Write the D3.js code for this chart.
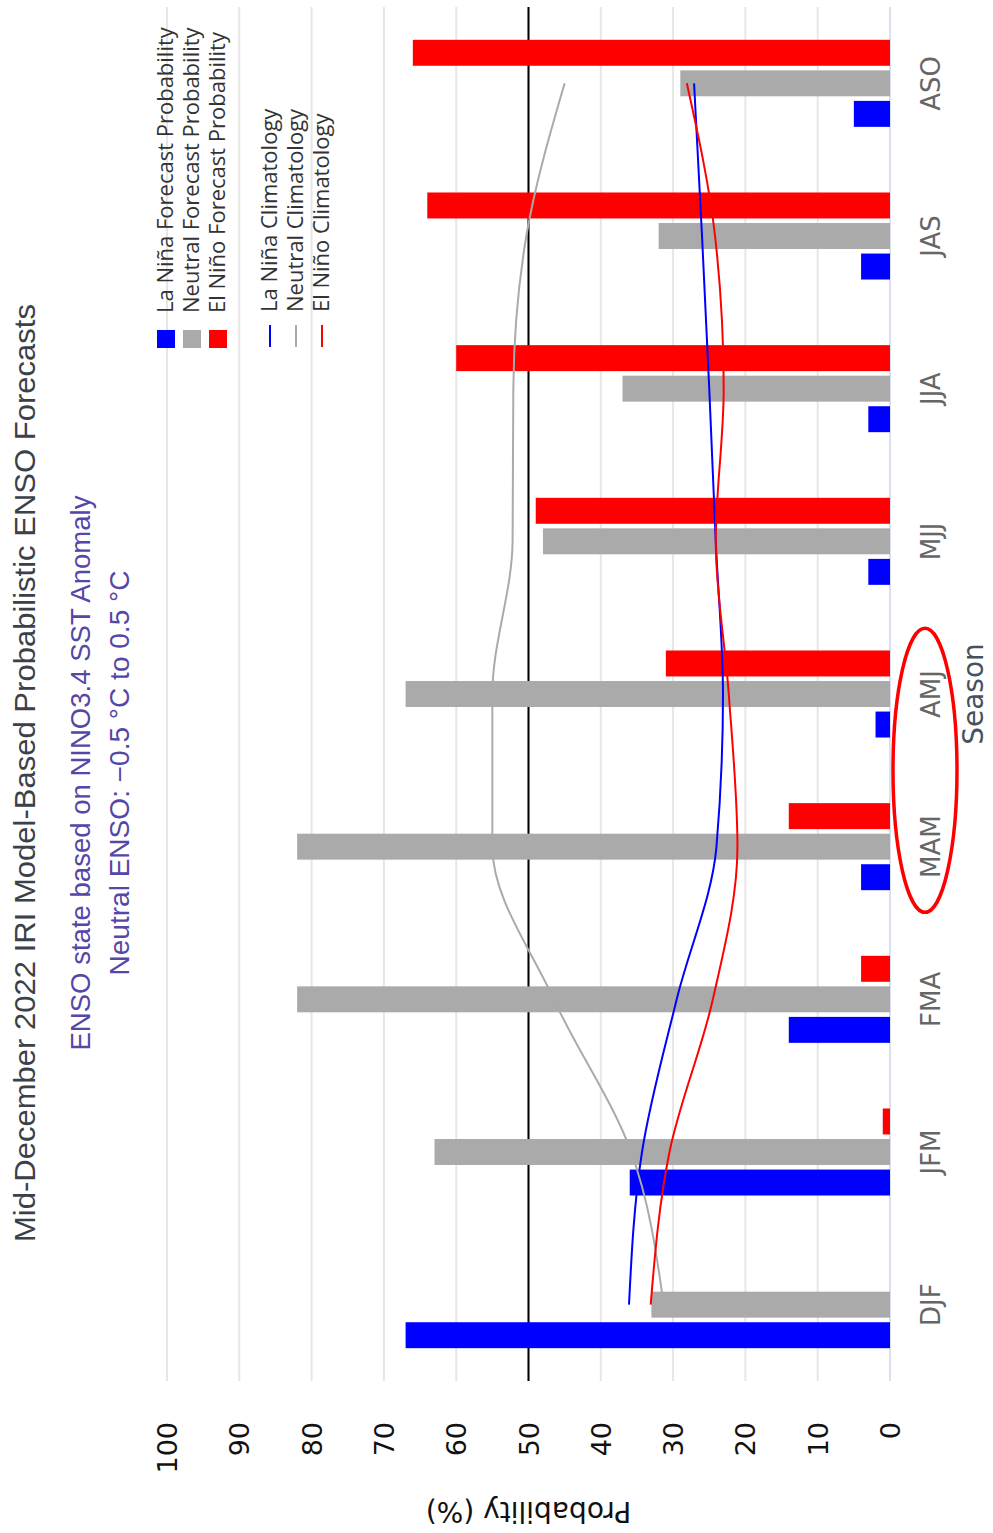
<!DOCTYPE html>
<html>
<head>
<meta charset="utf-8">
<script src="https://cdn.jsdelivr.net/npm/d3@7"></script>
<style>
  html, body { margin: 0; padding: 0; background: #fff; }
  svg { display: block; }
</style>
</head>
<body>
<div id="chart"></div>
<script>
// 数据
const seasons = ['DJF', 'JFM', 'FMA', 'MAM', 'AMJ', 'MJJ', 'JJA', 'JAS', 'ASO'];
const laNinaProb = [67, 36, 14, 4, 2, 3, 3, 4, 5];
const neutralProb = [33, 63, 82, 82, 67, 48, 37, 32, 29];
const elNinoProb = [0, 1, 4, 14, 31, 49, 60, 64, 66];
const laNinaClim = [36.1, 34.3, 29.5, 24, 23.1, 24.1, 25, 26, 27.1];
const neutralClim = [31.3, 35.8, 46.5, 55, 55, 52.2, 52.1, 50.3, 45];
const elNinoClim = [33.1, 30.5, 24.5, 21.1, 22.3, 24.1, 23, 24.2, 28.1];
const yTicks = [0, 10, 20, 30, 40, 50, 60, 70, 80, 90, 100];

const barSeries = [
  { key: 'lanina', name: 'La Niña Forecast Probability', color: '#0000ff', values: laNinaProb },
  { key: 'neutral', name: 'Neutral Forecast Probability', color: '#aaaaaa', values: neutralProb },
  { key: 'elnino', name: 'El Niño Forecast Probability', color: '#ff0000', values: elNinoProb }
];
const lineSeries = [
  { name: 'La Niña Climatology', color: '#0000ff', values: laNinaClim },
  { name: 'Neutral Climatology', color: '#aaaaaa', values: neutralClim },
  { name: 'El Niño Climatology', color: '#ff0000', values: elNinoClim }
];

const pageW = 993;
const pageH = 1533;
// the chart is drawn unrotated, then turned 90° counter-clockwise
const plot = { left: 152, right: 1526, top: 167, bottom: 890 };

const svg = d3.select('#chart').append('svg')
  .attr('width', pageW)
  .attr('height', pageH);

const g = svg.append('g')
  .attr('transform', `translate(0,${pageH}) rotate(-90)`);

const x0 = d3.scaleBand()
  .domain(seasons)
  .range([plot.left, plot.right])
  .paddingInner(0.43)
  .paddingOuter(0.215);

const x1 = d3.scaleBand()
  .domain(barSeries.map(d => d.key))
  .range([0, x0.bandwidth()])
  .paddingInner(0.15);

const y = d3.scaleLinear()
  .domain([0, 100])
  .range([plot.bottom, plot.top]);

// 网格线
g.append('g')
  .selectAll('line')
  .data(yTicks)
  .join('line')
  .attr('x1', plot.left)
  .attr('x2', plot.right)
  .attr('y1', d => y(d))
  .attr('y2', d => y(d))
  .attr('stroke', d => d === 0 ? '#ccd6eb' : '#e6e6e6')
  .attr('stroke-width', d => d === 0 ? 1.5 : 2);

// tick labels
g.append('g')
  .selectAll('text')
  .data(yTicks)
  .join('text')
  .attr('x', 111)
  .attr('y', d => y(d) + 10)
  .attr('text-anchor', 'end')
  .attr('font-family', 'DejaVu Sans, sans-serif')
  .attr('font-size', 27)
  .attr('fill', '#111')
  .text(d => d);

g.append('text')
  .attr('transform', `translate(31,${y(50)}) rotate(-90)`)
  .attr('text-anchor', 'middle')
  .attr('font-family', 'DejaVu Sans, sans-serif')
  .attr('font-size', 28)
  .attr('fill', '#111')
  .text('Probability (%)');

// 50% line
g.append('line')
  .attr('x1', plot.left)
  .attr('x2', plot.right)
  .attr('y1', y(50))
  .attr('y2', y(50))
  .attr('stroke', '#000')
  .attr('stroke-width', 2);

// bars
barSeries.forEach(s => {
  g.append('g')
    .attr('fill', s.color)
    .selectAll('rect')
    .data(s.values.map((v, i) => ({ season: seasons[i], value: v })))
    .join('rect')
    .attr('x', d => x0(d.season) + x1(s.key))
    .attr('width', x1.bandwidth())
    .attr('y', d => y(d.value))
    .attr('height', d => y(0) - y(d.value));
});

// climatology lines
const line = d3.line()
  .x((d, i) => x0(seasons[i]) + x0.bandwidth() / 2)
  .y(d => y(d))
  .curve(d3.curveMonotoneX);

lineSeries.forEach(s => {
  g.append('path')
    .attr('d', line(s.values))
    .attr('fill', 'none')
    .attr('stroke', s.color)
    .attr('stroke-width', 2);
});

// category labels
g.append('g')
  .selectAll('text')
  .data(seasons)
  .join('text')
  .attr('x', d => x0(d) + x0.bandwidth() / 2)
  .attr('y', 940)
  .attr('text-anchor', 'middle')
  .attr('font-family', 'DejaVu Sans, sans-serif')
  .attr('font-size', 26)
  .attr('fill', '#666')
  .text(d => d);

g.append('text')
  .attr('x', (plot.left + plot.right) / 2)
  .attr('y', 983)
  .attr('text-anchor', 'middle')
  .attr('font-family', 'DejaVu Sans, sans-serif')
  .attr('font-size', 28)
  .attr('fill', '#45525e')
  .text('Season');

// red annotation ring around MAM / AMJ
const ringX = (x0('MAM') + x0('AMJ') + x0.bandwidth()) / 2;
g.append('ellipse')
  .attr('cx', ringX)
  .attr('cy', 925)
  .attr('rx', 142)
  .attr('ry', 32)
  .attr('fill', 'none')
  .attr('stroke', '#ff0000')
  .attr('stroke-width', 3.5);

// 标题
const titleX = 760;
g.append('text')
  .attr('x', titleX)
  .attr('y', 35)
  .attr('text-anchor', 'middle')
  .attr('font-family', 'Liberation Sans, sans-serif')
  .attr('font-size', 29)
  .attr('fill', '#3a4149')
  .attr('textLength', 938)
  .attr('lengthAdjust', 'spacingAndGlyphs')
  .text('Mid-December 2022 IRI Model-Based Probabilistic ENSO Forecasts');

g.append('text')
  .attr('x', titleX)
  .attr('y', 90)
  .attr('text-anchor', 'middle')
  .attr('font-family', 'Liberation Sans, sans-serif')
  .attr('font-size', 27)
  .attr('fill', '#5447a8')
  .attr('textLength', 555)
  .attr('lengthAdjust', 'spacingAndGlyphs')
  .text('ENSO state based on NINO3.4 SST Anomaly');

g.append('text')
  .attr('x', titleX)
  .attr('y', 129)
  .attr('text-anchor', 'middle')
  .attr('font-family', 'Liberation Sans, sans-serif')
  .attr('font-size', 27)
  .attr('fill', '#5447a8')
  .attr('textLength', 405)
  .attr('lengthAdjust', 'spacingAndGlyphs')
  .text('Neutral ENSO: \u22120.5 \u00b0C to 0.5 \u00b0C');

// legend
const legend = g.append('g')
  .attr('font-family', 'Open Sans, sans-serif')
  .attr('font-size', 22)
  .attr('fill', '#333');

const legendRows = d3.scaleLinear().domain([0, 1]).range([166, 192]);

barSeries.forEach((s, i) => {
  const cy = legendRows(i);
  legend.append('rect')
    .attr('x', 1185)
    .attr('y', cy - 9)
    .attr('width', 18)
    .attr('height', 18)
    .attr('fill', s.color);
  legend.append('text')
    .attr('x', 1220)
    .attr('y', cy + 7)
    .text(s.name);
});

lineSeries.forEach((s, i) => {
  const cy = legendRows(i + 4);
  legend.append('line')
    .attr('x1', 1186)
    .attr('x2', 1208)
    .attr('y1', cy)
    .attr('y2', cy)
    .attr('stroke', s.color)
    .attr('stroke-width', 2);
  legend.append('text')
    .attr('x', 1221)
    .attr('y', cy + 7)
    .text(s.name);
});
</script>
</body>
</html>
